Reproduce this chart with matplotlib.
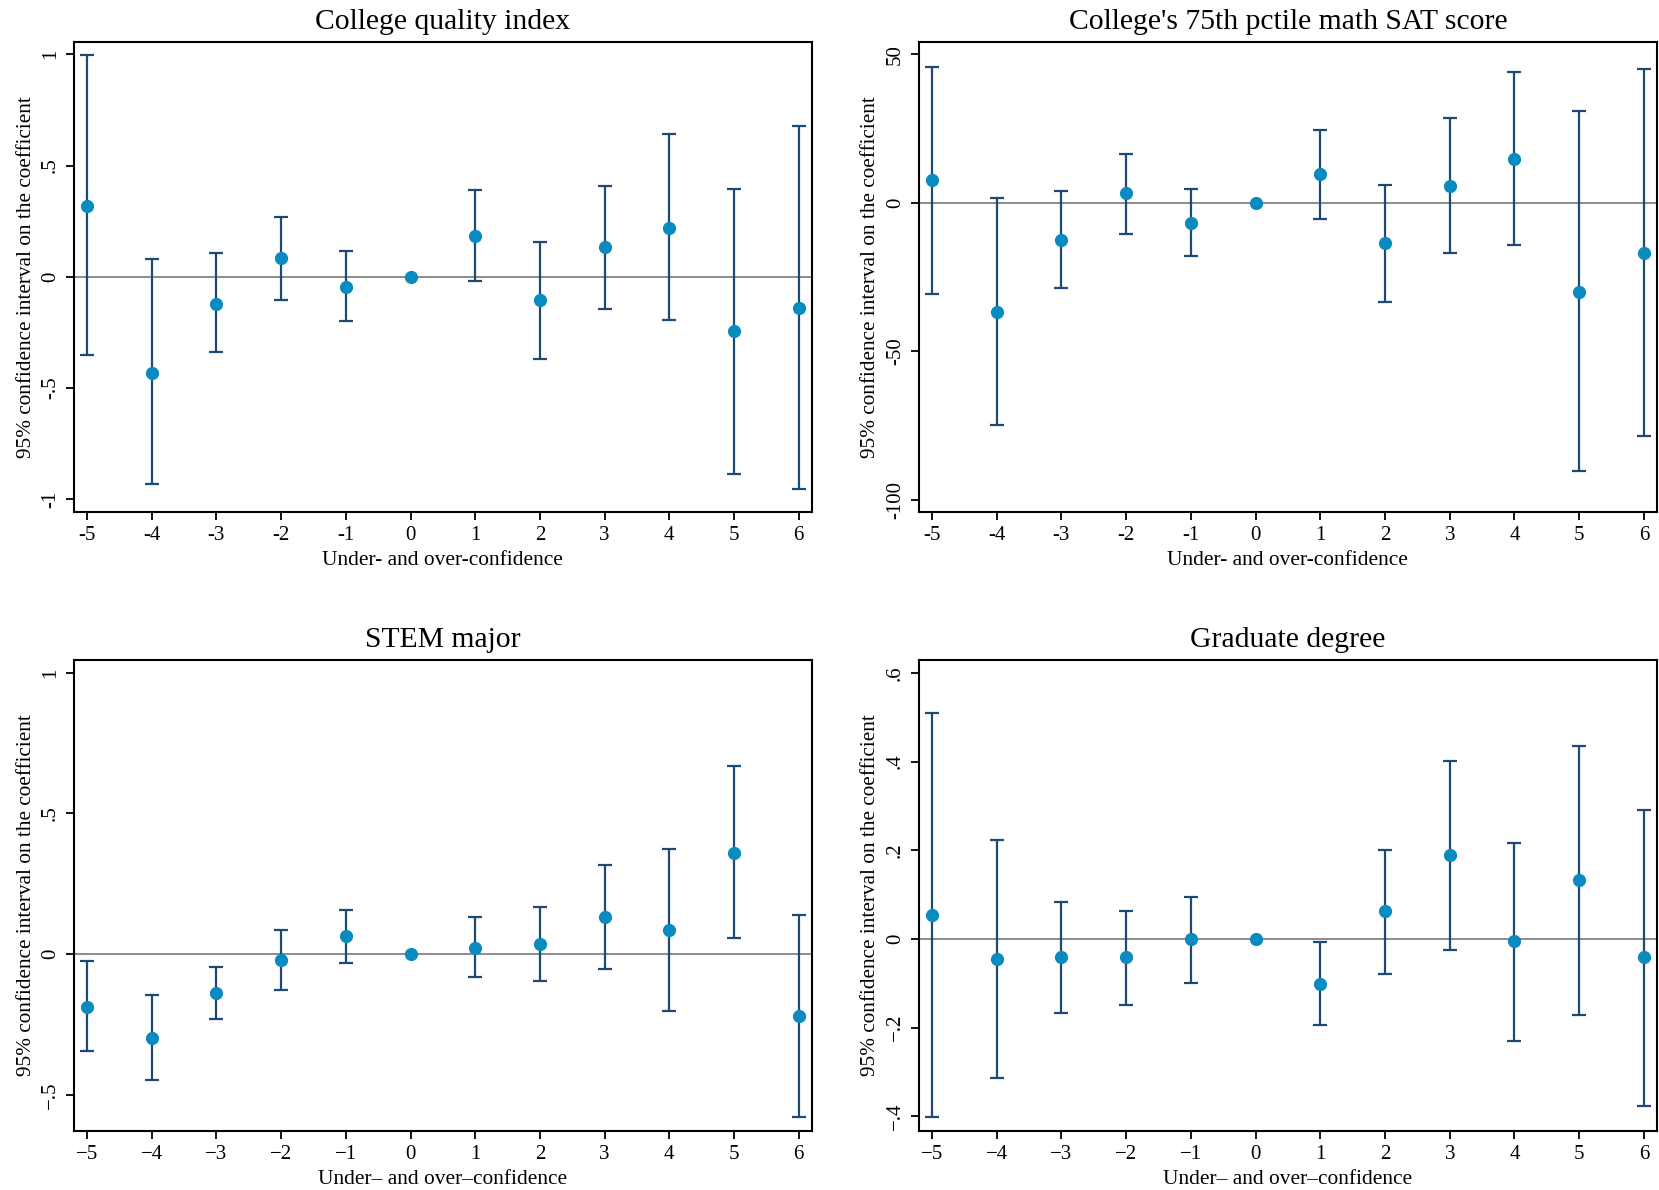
import matplotlib
matplotlib.use("Agg")
import matplotlib.pyplot as plt
from matplotlib.ticker import FixedLocator, FuncFormatter

plt.rcParams['font.family'] = ['Liberation Serif', 'DejaVu Serif']

x = [-5, -4, -3, -2, -1, 0, 1, 2, 3, 4, 5, 6]

# college quality index
cq_est = [0.32, -0.43, -0.12, 0.085, -0.045, 0, 0.185, -0.105, 0.133, 0.22, -0.243, -0.138]
cq_hi = [0.995, 0.08, 0.105, 0.27, 0.115, 0, 0.39, 0.157, 0.41, 0.64, 0.395, 0.676]
cq_lo = [-0.35, -0.93, -0.34, -0.105, -0.2, 0, -0.02, -0.37, -0.143, -0.195, -0.886, -0.952]

# 75th pctile math SAT
sat_est = [7.5, -36.8, -12.5, 3.2, -6.8, 0, 9.6, -13.6, 5.7, 14.6, -30.0, -16.8]
sat_hi = [45.7, 1.4, 3.9, 16.4, 4.6, 0, 24.6, 6.1, 28.6, 43.9, 30.7, 45.0]
sat_lo = [-30.7, -75.0, -28.9, -10.4, -17.9, 0, -5.4, -33.6, -17.1, -14.3, -90.4, -78.6]

# STEM major
stem_est = [-0.187, -0.296, -0.139, -0.019, 0.064, 0, 0.022, 0.037, 0.131, 0.086, 0.36, -0.221]
stem_hi = [-0.026, -0.146, -0.045, 0.086, 0.157, 0, 0.131, 0.169, 0.318, 0.375, 0.667, 0.139]
stem_lo = [-0.345, -0.446, -0.232, -0.127, -0.03, 0, -0.082, -0.097, -0.052, -0.202, 0.056, -0.577]

# graduate degree
grad_est = [0.055, -0.045, -0.04, -0.04, 0.0, 0, -0.102, 0.062, 0.19, -0.005, 0.133, -0.04]
grad_hi = [0.51, 0.224, 0.083, 0.064, 0.095, 0, -0.007, 0.2, 0.402, 0.217, 0.436, 0.29]
grad_lo = [-0.402, -0.314, -0.167, -0.148, -0.1, 0, -0.195, -0.079, -0.024, -0.231, -0.171, -0.376]

titles = ["College quality index", "College's 75th pctile math SAT score",
          "STEM major", "Graduate degree"]
ylab = "95% confidence interval on the coefficient"

bar_col = '#1c4a75'
pt_col = '#0a8bbf'


def fmt(v, minus):
    if abs(v) < 1e-9:
        return "0"
    s = ("%g" % abs(v))
    if s.startswith("0."):
        s = s[1:]
    return (minus + s) if v < 0 else s


def panel(ax, est, lo, hi, title, yt, ylim, minus, xl):
    ax.axhline(0, color='#8c8c8c', lw=1.4, zorder=1)
    for xi, e, l, h in zip(x, est, lo, hi):
        if l == h:
            continue
        ax.errorbar([xi], [e], yerr=[[e - l], [h - e]], fmt='none', ecolor=bar_col,
                    elinewidth=1.6, capsize=5, capthick=1.6, zorder=2)
    ax.plot(x, est, 'o', color=pt_col, ms=8.5, zorder=3)
    ax.set_xlim(-5.2, 6.2)
    ax.set_ylim(*ylim)
    ax.xaxis.set_major_locator(FixedLocator(x))
    ax.yaxis.set_major_locator(FixedLocator(yt))
    ax.xaxis.set_major_formatter(FuncFormatter(lambda v, p: fmt(v, minus)))
    ax.yaxis.set_major_formatter(FuncFormatter(lambda v, p: fmt(v, minus)))
    ax.tick_params(direction='out', length=6, width=1.3, labelsize=15, pad=4)
    for lab in ax.get_yticklabels():
        lab.set_rotation(90)
        lab.set_va('center')
    for s in ax.spines.values():
        s.set_linewidth(1.5)
    ax.set_title(title, fontsize=21.3, pad=9.5)
    ax.set_xlabel(xl, fontsize=15.4, labelpad=4.5)
    ax.set_ylabel(ylab, fontsize=15.3, labelpad=4)


fig = plt.figure(figsize=(16.59, 11.90), dpi=100)
ax1 = fig.add_axes([0.0446, 0.5697, 0.4447, 0.395])
ax2 = fig.add_axes([0.5539, 0.5697, 0.4448, 0.395])
ax3 = fig.add_axes([0.0446, 0.0496, 0.4447, 0.3958])
ax4 = fig.add_axes([0.5539, 0.0496, 0.4448, 0.3958])

panel(ax1, cq_est, cq_lo, cq_hi, titles[0], [-1, -0.5, 0, 0.5, 1], (-1.057, 1.055),
      '-', "Under- and over-confidence")
panel(ax2, sat_est, sat_lo, sat_hi, titles[1], [-100, -50, 0, 50], (-104.2, 54.1),
      '-', "Under- and over-confidence")
panel(ax3, stem_est, stem_lo, stem_hi, titles[2], [-0.5, 0, 0.5, 1], (-0.628, 1.045),
      '\u2212', "Under\u2013 and over\u2013confidence")
panel(ax4, grad_est, grad_lo, grad_hi, titles[3], [-0.4, -0.2, 0, 0.2, 0.4, 0.6], (-0.433, 0.629),
      '\u2212', "Under\u2013 and over\u2013confidence")

fig.savefig("out.png", dpi=100)
